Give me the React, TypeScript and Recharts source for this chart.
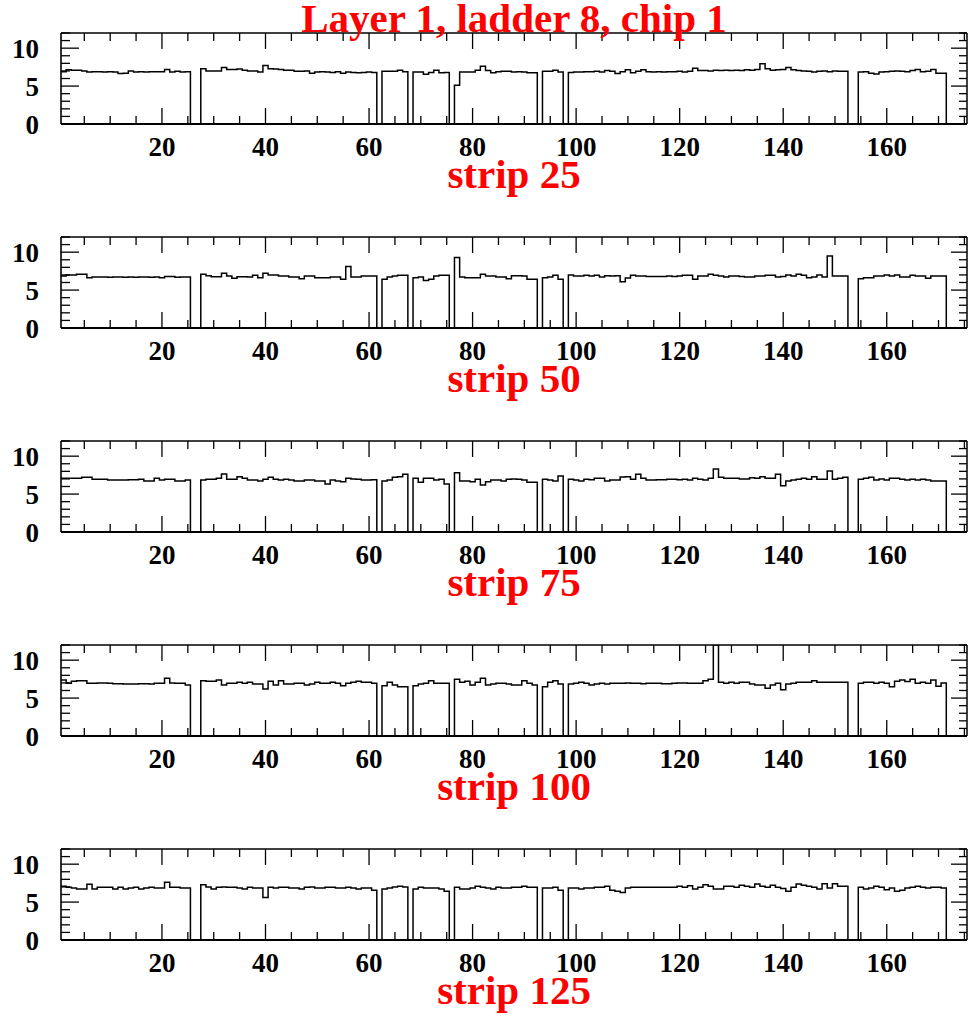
import React from 'react';
import { LineChart, Line, XAxis, YAxis } from 'recharts';

const title = 'Layer 1, ladder 8, chip 1';
const stripLabels = ['strip 25', 'strip 50', 'strip 75', 'strip 100', 'strip 125'];

const xTicks = [5, 10, 15, 20, 25, 30, 35, 40, 45, 50, 55, 60, 65, 70, 75, 80, 85, 90, 95, 100, 105, 110, 115, 120, 125, 130, 135, 140, 145, 150, 155, 160, 165, 170, 175];
const xLabelTicks = [20, 40, 60, 80, 100, 120, 140, 160];
const yTicks = [0, 1, 2, 3, 4, 5, 6, 7, 8, 9, 10, 11, 12];
const yLabelTicks = [0, 5, 10];

// bin contents, bins 1..175 (bin k spans k-0.5 .. k+0.5)
const strip25 = [
  6.9, 7.15, 7.1, 7.1, 7.0, 6.85, 6.9, 6.9, 6.85, 6.9,
  6.85, 6.65, 6.7, 7.0, 6.85, 6.9, 6.85, 6.9, 6.9, 6.9,
  7.2, 6.85, 6.95, 6.85, 6.9, 0, 0, 7.3, 7.0, 7.0,
  7.0, 7.45, 7.2, 7.2, 7.25, 7.1, 7.0, 7.0, 6.85, 7.7,
  7.3, 7.25, 7.2, 7.1, 7.1, 6.95, 6.95, 7.0, 6.7, 6.85,
  6.9, 6.85, 6.8, 6.9, 6.7, 6.85, 6.8, 6.75, 6.8, 6.85,
  6.8, 0, 6.95, 6.95, 6.95, 7.1, 6.9, 0, 6.85, 6.85,
  6.55, 6.8, 7.1, 6.75, 6.8, 0, 5.1, 6.85, 6.85, 6.85,
  7.1, 7.6, 7.05, 6.75, 6.9, 6.95, 6.95, 6.85, 6.9, 6.85,
  6.75, 6.75, 0, 6.95, 6.95, 7.1, 6.85, 0, 6.8, 6.85,
  6.85, 6.9, 6.9, 6.95, 6.85, 7.05, 6.95, 6.65, 6.9, 7.15,
  6.75, 6.95, 7.15, 6.9, 6.85, 6.9, 6.85, 6.9, 6.9, 6.95,
  6.85, 6.95, 7.35, 7.05, 7.05, 7.0, 7.1, 7.05, 7.1, 7.05,
  7.1, 7.05, 7.15, 7.1, 7.2, 7.95, 7.3, 7.1, 7.15, 7.2,
  7.45, 7.15, 7.05, 7.0, 6.95, 6.85, 6.95, 7.0, 6.9, 7.0,
  6.95, 6.95, 0, 0, 6.85, 6.9, 6.7, 6.6, 6.85, 6.9,
  6.95, 7.0, 6.95, 6.9, 7.05, 7.2, 6.9, 6.95, 7.2, 6.7,
  6.7, 0, 0, 0, 0,
];

const strip50 = [
  6.86, 6.99, 6.99, 7.08, 7.08, 6.64, 6.73, 6.73, 6.73, 6.7,
  6.73, 6.73, 6.7, 6.73, 6.7, 6.73, 6.73, 6.7, 6.73, 6.64,
  6.8, 6.8, 6.7, 6.73, 6.73, 0, 0, 7.08, 6.9, 6.75,
  6.75, 7.21, 6.86, 6.55, 6.75, 6.75, 6.73, 6.95, 6.64, 7.21,
  6.99, 6.99, 6.86, 6.86, 6.73, 6.73, 6.5, 6.86, 6.86, 6.64,
  6.64, 6.64, 6.73, 6.73, 6.42, 8.1, 6.73, 6.73, 6.86, 6.86,
  6.86, 0, 6.42, 6.73, 6.86, 6.95, 6.95, 0, 6.64, 6.73,
  6.28, 6.42, 6.86, 6.95, 6.95, 0, 9.3, 6.73, 6.64, 6.64,
  6.64, 7.08, 6.86, 6.86, 6.73, 6.73, 6.5, 6.9, 6.9, 6.86,
  6.42, 6.42, 0, 6.64, 6.73, 6.95, 6.42, 0, 6.99, 6.86,
  6.86, 6.95, 6.86, 6.95, 6.73, 6.9, 6.86, 6.9, 6.1, 6.6,
  6.95, 6.86, 6.86, 6.8, 6.8, 6.8, 6.8, 6.86, 6.8, 6.86,
  6.95, 6.95, 6.42, 6.86, 6.86, 7.08, 6.95, 6.86, 6.73, 6.86,
  6.86, 6.8, 6.73, 6.73, 6.86, 6.86, 6.95, 6.95, 6.73, 6.8,
  7.0, 6.86, 7.08, 6.95, 6.64, 6.73, 6.99, 6.73, 9.5, 6.86,
  6.86, 6.86, 0, 0, 6.5, 6.64, 6.64, 6.86, 6.86, 6.99,
  6.86, 7.0, 6.73, 6.73, 6.95, 6.86, 6.86, 6.55, 6.86, 6.86,
  6.86, 0, 0, 0, 0,
];

const strip75 = [
  7.08, 7.08, 7.08, 7.08, 7.21, 7.21, 6.95, 6.95, 6.95, 6.86,
  6.86, 6.86, 6.86, 6.9, 6.9, 6.95, 6.73, 6.73, 7.08, 6.86,
  6.95, 6.95, 6.73, 6.73, 6.86, 0, 0, 6.86, 6.95, 6.95,
  7.08, 7.65, 6.95, 6.95, 7.3, 7.08, 6.86, 6.86, 6.73, 6.95,
  7.21, 6.95, 6.86, 6.95, 6.86, 6.73, 6.73, 6.86, 6.86, 6.73,
  6.73, 6.33, 6.86, 6.73, 6.64, 7.08, 6.99, 6.95, 6.86, 6.86,
  6.9, 0, 6.73, 6.86, 7.21, 7.3, 7.6, 0, 7.08, 6.55,
  7.08, 7.08, 6.86, 6.95, 6.33, 0, 7.8, 6.73, 6.73, 6.64,
  6.95, 6.2, 6.64, 6.86, 6.86, 6.73, 6.95, 6.99, 6.95, 6.86,
  6.55, 6.55, 0, 6.95, 6.86, 6.73, 7.4, 0, 6.95, 6.86,
  6.73, 6.95, 6.9, 7.08, 7.08, 6.73, 6.86, 6.86, 7.25, 7.3,
  6.95, 7.6, 7.08, 6.86, 6.86, 6.9, 6.9, 6.95, 6.95, 6.9,
  6.95, 6.86, 7.08, 6.95, 6.86, 7.08, 8.3, 7.21, 7.08, 7.08,
  7.08, 7.0, 7.0, 7.15, 7.08, 7.3, 7.08, 7.08, 7.6, 6.1,
  6.73, 6.86, 6.95, 7.08, 6.95, 7.3, 6.95, 6.95, 8.05, 6.95,
  7.08, 7.21, 0, 0, 6.95, 7.08, 7.21, 6.86, 6.99, 6.86,
  7.08, 7.08, 6.95, 6.86, 6.95, 6.86, 6.95, 6.86, 6.73, 6.73,
  6.73, 0, 0, 0, 0,
];

const strip100 = [
  7.4, 6.95, 7.21, 7.3, 7.3, 6.95, 6.95, 7.0, 7.0, 6.95,
  6.9, 6.9, 6.86, 6.86, 6.86, 6.9, 6.9, 6.86, 6.95, 6.95,
  7.6, 6.99, 6.95, 6.95, 6.73, 0, 0, 7.3, 7.21, 7.21,
  7.39, 6.73, 6.95, 6.95, 7.08, 6.95, 7.08, 6.86, 6.86, 6.2,
  7.21, 6.73, 7.3, 6.86, 6.86, 6.95, 6.95, 6.73, 6.86, 7.08,
  6.95, 6.95, 7.08, 6.95, 6.64, 6.95, 7.08, 7.21, 7.08, 7.08,
  6.95, 0, 6.64, 7.08, 6.73, 6.5, 6.5, 0, 6.64, 6.86,
  6.95, 7.3, 6.95, 6.95, 6.95, 0, 7.5, 7.08, 7.21, 6.73,
  7.08, 7.6, 6.73, 6.86, 6.95, 6.95, 6.86, 6.73, 6.73, 7.3,
  6.95, 6.73, 0, 6.5, 7.08, 7.3, 6.86, 0, 6.86, 6.95,
  7.08, 6.95, 6.73, 6.86, 6.95, 6.86, 6.95, 6.95, 6.95, 7.0,
  6.95, 6.95, 6.9, 6.95, 6.95, 6.95, 6.9, 6.9, 6.95, 6.99,
  6.99, 6.95, 6.95, 6.95, 7.3, 7.5, 12, 7.08, 6.95, 7.08,
  6.95, 7.08, 7.08, 6.86, 6.73, 6.73, 6.3, 6.73, 6.95, 6.1,
  6.86, 6.95, 7.08, 7.08, 7.08, 7.3, 7.08, 7.08, 7.08, 7.08,
  7.08, 7.08, 0, 0, 6.95, 7.08, 7.08, 6.95, 7.08, 6.95,
  6.5, 7.21, 7.4, 7.2, 7.5, 6.95, 7.08, 6.95, 7.4, 6.55,
  6.99, 0, 0, 0, 0,
];

const strip125 = [
  7.08, 6.95, 6.86, 6.73, 6.73, 7.35, 6.73, 6.95, 6.95, 6.95,
  6.73, 6.95, 6.73, 6.86, 6.95, 6.73, 6.86, 6.95, 6.86, 6.86,
  7.6, 6.95, 6.95, 6.86, 6.86, 0, 0, 7.3, 6.99, 6.73,
  6.95, 6.99, 6.95, 6.95, 6.86, 6.73, 6.95, 6.86, 6.86, 5.62,
  6.95, 6.86, 6.95, 6.95, 6.86, 6.86, 6.73, 6.95, 6.99, 6.86,
  6.86, 6.95, 6.95, 6.86, 6.86, 6.95, 6.86, 6.73, 6.86, 6.86,
  6.55, 0, 6.73, 6.86, 6.99, 7.08, 6.99, 0, 6.73, 6.95,
  6.86, 6.86, 6.86, 6.73, 6.42, 0, 6.95, 6.73, 6.73, 6.86,
  7.08, 6.95, 6.86, 6.73, 6.95, 6.86, 6.86, 6.95, 6.95, 7.08,
  6.95, 6.95, 0, 6.86, 6.86, 6.95, 6.55, 0, 6.86, 6.86,
  6.73, 6.86, 6.86, 6.95, 6.95, 7.08, 6.55, 6.42, 6.28, 6.86,
  6.95, 6.95, 6.95, 6.95, 6.95, 6.95, 6.95, 6.95, 6.95, 7.08,
  6.95, 7.15, 6.73, 6.95, 7.3, 7.08, 6.73, 6.73, 7.08, 7.08,
  6.95, 7.21, 7.08, 6.95, 7.39, 7.08, 6.95, 7.21, 6.95, 6.8,
  6.42, 6.95, 7.39, 7.21, 7.08, 6.95, 6.73, 7.43, 6.86, 7.43,
  7.08, 7.08, 0, 0, 6.95, 6.73, 6.86, 7.08, 6.95, 6.64,
  6.86, 6.42, 6.55, 6.86, 6.95, 7.08, 6.95, 6.86, 6.95, 6.95,
  6.86, 0, 0, 0, 0,
];

const panels = [strip25, strip50, strip75, strip100, strip125];

const X_MIN = 0.5;
const X_MAX = 175.5;
const Y_MIN = 0;
const Y_MAX = 12;

const W = 968;
const PANEL_H = 204;
// plot frame: x 61..967, y 33..124 within each 204px panel
const BOTTOM_AXIS_H = 40;
const TOP_AXIS_H = 10;
const LEFT_AXIS_W = 40;
const RIGHT_AXIS_W = 1;
const MARGIN = { top: 33 - TOP_AXIS_H, right: 0, bottom: 80 - BOTTOM_AXIS_H, left: 61 - LEFT_AXIS_W };
const FONT = "'Liberation Serif', 'Times New Roman', serif";
const TICK_FONT_SIZE = 27;
const TEXT_FONT_SIZE = 41;

function toSteps(values: number[]) {
  const pts = values.map((v, i) => ({ x: X_MIN + i, y: v }));
  pts.push({ x: X_MIN + values.length, y: values[values.length - 1] });
  return pts;
}

const BottomTick = (props: any) => {
  const { x, y, payload } = props;
  const v = payload.value;
  const major = xLabelTicks.includes(v);
  return (
    <g>
      <line x1={x} y1={y} x2={x} y2={y - (major ? 16 : 8)} stroke="#000" strokeWidth={1.3} />
      {major && (
        <text x={x} y={y + 32} textAnchor="middle" fontFamily={FONT} fontWeight="bold" fontSize={TICK_FONT_SIZE} fill="#000">
          {v}
        </text>
      )}
    </g>
  );
};

const TopTick = (props: any) => {
  const { x, y, payload } = props;
  const major = xLabelTicks.includes(payload.value);
  return <line x1={x} y1={y} x2={x} y2={y + (major ? 16 : 8)} stroke="#000" strokeWidth={1.3} />;
};

const LeftTick = (props: any) => {
  const { x, y, payload } = props;
  const v = payload.value;
  const major = yLabelTicks.includes(v);
  return (
    <g>
      <line x1={x} y1={y} x2={x + (major ? 18 : 9)} y2={y} stroke="#000" strokeWidth={1.3} />
      {major && (
        <text x={x - 22} y={y + 10} textAnchor="end" fontFamily={FONT} fontWeight="bold" fontSize={TICK_FONT_SIZE} fill="#000">
          {v}
        </text>
      )}
    </g>
  );
};

const RightTick = (props: any) => {
  const { x, y, payload } = props;
  const major = yLabelTicks.includes(payload.value);
  return <line x1={x} y1={y} x2={x - (major ? 16 : 8)} y2={y} stroke="#000" strokeWidth={1.3} />;
};

function Panel({ values }: { values: number[] }) {
  const data = toSteps(values);
  return (
    <LineChart width={W} height={PANEL_H} data={data} margin={MARGIN}>
      <XAxis
        dataKey="x"
        type="number"
        domain={[X_MIN, X_MAX]}
        allowDataOverflow
        ticks={xTicks}
        interval={0}
        height={BOTTOM_AXIS_H}
        tickSize={0}
        tickMargin={0}
        tickLine={false}
        tick={BottomTick}
        axisLine={{ stroke: '#000', strokeWidth: 2 }}
      />
      <XAxis
        xAxisId="top"
        orientation="top"
        dataKey="x"
        type="number"
        domain={[X_MIN, X_MAX]}
        allowDataOverflow
        ticks={xTicks}
        interval={0}
        height={TOP_AXIS_H}
        tickSize={0}
        tickMargin={0}
        tickLine={false}
        tick={TopTick}
        axisLine={{ stroke: '#000', strokeWidth: 1.5 }}
      />
      <YAxis
        type="number"
        domain={[Y_MIN, Y_MAX]}
        allowDataOverflow
        ticks={yTicks}
        interval={0}
        width={LEFT_AXIS_W}
        tickSize={0}
        tickMargin={0}
        tickLine={false}
        tick={LeftTick}
        axisLine={{ stroke: '#000', strokeWidth: 1.6 }}
      />
      <YAxis
        yAxisId="right"
        orientation="right"
        type="number"
        domain={[Y_MIN, Y_MAX]}
        allowDataOverflow
        ticks={yTicks}
        interval={0}
        width={RIGHT_AXIS_W}
        tickSize={0}
        tickMargin={0}
        tickLine={false}
        tick={RightTick}
        axisLine={{ stroke: '#000', strokeWidth: 1.5 }}
      />
      <Line
        type="stepAfter"
        dataKey="y"
        stroke="#000"
        strokeWidth={1.5}
        dot={false}
        activeDot={false}
        isAnimationActive={false}
      />
    </LineChart>
  );
}

export default function App() {
  const frameCenter = 61 + (967 - 61) / 2;
  return (
    <div style={{ position: 'absolute', left: 0, top: 0, width: W, height: 1018, overflow: 'hidden', background: '#fff' }}>
      {panels.map((vals, i) => (
        <div key={i} style={{ position: 'absolute', left: 0, top: i * PANEL_H, width: W, height: PANEL_H }}>
          <Panel values={vals} />
        </div>
      ))}
      <svg width={W} height={1018} style={{ position: 'absolute', left: 0, top: 0, pointerEvents: 'none' }}>
        <text x={frameCenter} y={32} textAnchor="middle" fontFamily={FONT} fontWeight="bold" fontSize={TEXT_FONT_SIZE} fill="#ff0000">
          {title}
        </text>
        {stripLabels.map((s, i) => (
          <text key={s} x={frameCenter} y={188 + i * PANEL_H} textAnchor="middle" fontFamily={FONT} fontWeight="bold" fontSize={TEXT_FONT_SIZE} fill="#ff0000">
            {s}
          </text>
        ))}
      </svg>
    </div>
  );
}
